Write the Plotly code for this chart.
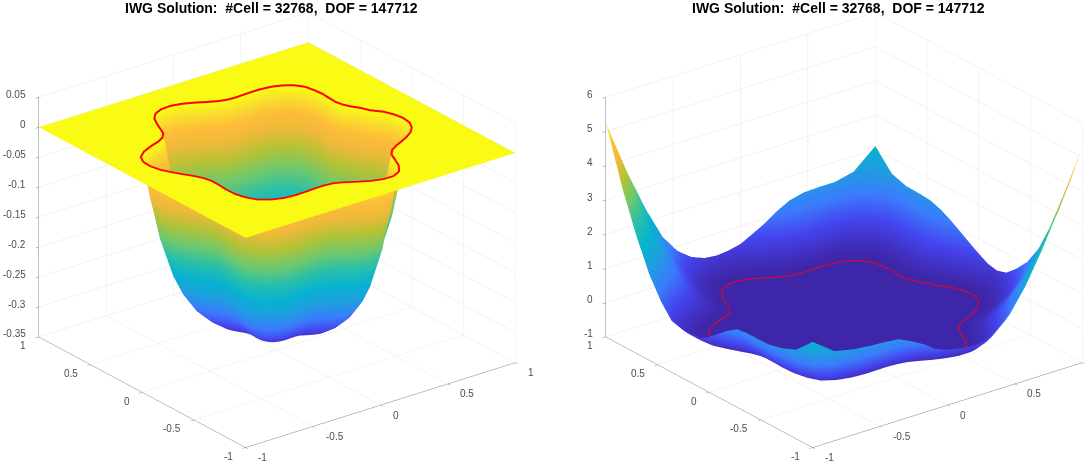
import numpy as np
import plotly.graph_objects as go

TITLE = "IWG Solution:\u00a0\u00a0#Cell = 32768,\u00a0\u00a0DOF = 147712"

# interface radius, read every 5 degrees from the red curve
angle_deg = list(range(0, 365, 5))
star_radius = [.690,.670,.644,.633,.641,.668,.706,.739,.774,.785,.778,.758,.729,.698,.670,.649,.642,.652,.679,.718,
               .759,.792,.808,.806,.781,.740,.703,.675,.674,.700,.750,.802,.841,.850,.838,.812,.776,.743,.715,.703,
               .710,.738,.779,.821,.852,.870,.864,.843,.809,.771,.738,.717,.711,.729,.766,.809,.846,.864,.852,.807,
               .751,.706,.694,.706,.731,.762,.792,.812,.817,.805,.778,.743,.690]

# left surface: depth against the fraction of the way from centre to interface
bowl_frac = [0,.1,.2,.3,.4,.5,.6,.7,.76,.82,.86,.9,.93,.96,.98,1]
bowl_z = [-.312,-.311,-.309,-.305,-.297,-.283,-.263,-.232,-.205,-.165,-.138,-.098,-.07,-.036,-.018,0]

# right surface: height on the square boundary at each angle
edge_z = [.57,.74,.92,1.1,1.26,1.37,1.40,1.41,1.55,2.1,1.55,1.42,1.42,1.40,1.30,1.10,.85,.66,.48,.40,
          .36,.40,.55,.85,1.4,2.35,3.6,5.27,3.6,2.4,1.5,.9,.50,.42,.42,.44,.62,.85,1.08,1.28,
          1.32,1.32,1.33,1.42,1.6,2.09,1.62,1.5,1.45,1.42,1.38,1.2,1.0,.75,.62,.55,.5,.52,.72,1.1,
          1.75,2.65,3.8,5.3,3.8,2.55,1.65,1.08,.72,.45,.36,.42,.57]
rise_frac = [0,.1,.2,.3,.4,.5,.6,.7,.8,.9,1]
rise_z = [0,.01,.04,.09,.16,.25,.36,.49,.64,.81,1]

x_ticks = [-1,-.5,0,.5,1]
y_ticks = [-1,-.5,0,.5,1]
z_ticks_left = [-.35,-.3,-.25,-.2,-.15,-.1,-.05,0,.05]
z_ticks_right = [-1,0,1,2,3,4,5,6]

parula = [[0,"#3e26a8"],[.1,"#4543ee"],[.2,"#3b7cfc"],[.3,"#1e9fdf"],[.4,"#07b3d0"],[.5,"#2bc0a8"],
          [.6,"#6fc86e"],[.7,"#b4c236"],[.8,"#f0b93a"],[.87,"#fdbc3a"],[.95,"#f9e12a"],[1,"#f9fb15"]]

th = np.radians(angle_deg)
r = np.array(star_radius)
cx, sx = np.cos(th), np.sin(th)
R_sq = 1/np.maximum(np.abs(cx), np.abs(sx))
bx = np.clip(R_sq*cx, -1, 1); by = np.clip(R_sq*sx, -1, 1)
sxv, syv = r*cx, r*sx

flat = dict(ambient=1, diffuse=0, specular=0, roughness=1, fresnel=0)
nocont = dict(x=dict(highlight=False), y=dict(highlight=False), z=dict(highlight=False))

def surf(x, y, z, cmin, cmax, scene):
    return go.Surface(x=x, y=y, z=z, surfacecolor=z, colorscale=parula, cmin=cmin, cmax=cmax,
                      showscale=False, lighting=flat, contours=nocont, hoverinfo="skip", scene=scene)

f = np.array(bowl_frac)[:, None]
bowl_x, bowl_y = f*sxv, f*syv
bowl_zz = np.array(bowl_z)[:, None]*np.ones_like(r)

t = np.array(rise_frac)[:, None]
out_x = sxv + t*(bx-sxv); out_y = syv + t*(by-syv)
out_z = np.array(rise_z)[:, None]*np.array(edge_z)
full_x = np.vstack([0*sxv, out_x]); full_y = np.vstack([0*syv, out_y])
full_z = np.vstack([0*sxv, out_z])

plate_x = np.vstack([sxv, bx]); plate_y = np.vstack([syv, by]); plate_z = np.zeros_like(plate_x)

fig = go.Figure()
fig.add_trace(surf(bowl_x, bowl_y, bowl_zz, -.315, 0, "scene"))
fig.add_trace(surf(plate_x, plate_y, plate_z, -.315, 0, "scene"))
fig.add_trace(go.Scatter3d(x=sxv, y=syv, z=0*sxv+.001, mode="lines", line=dict(color="#ff0000", width=4),
                           hoverinfo="skip", scene="scene"))
fig.add_trace(surf(full_x, full_y, full_z, 0, 5.3, "scene2"))
fig.add_trace(go.Scatter3d(x=sxv, y=syv, z=0*sxv+.02, mode="lines", line=dict(color="#ee0022", width=2),
                           hoverinfo="skip", scene="scene2"))

lab_font = dict(family="Liberation Sans", size=10, color="#4d4d4d")

def axis(vals, rng):
    return dict(range=rng, tickvals=vals, tickmode="array", showticklabels=False,
                showbackground=False, showgrid=True, gridcolor="#e6e6e6", gridwidth=1,
                zeroline=False, showline=True, linecolor="#808080", linewidth=1,
                ticks="outside", ticklen=4, tickcolor="#808080", title=dict(text=""),
                showspikes=False)

def labels(zticks, zlo):
    out = []
    for v in x_ticks:
        out.append(dict(x=v, y=-1, z=zlo, text=f"{v:g}", showarrow=False, xanchor="left", yanchor="middle",
                        xshift=11, yshift=-10, font=lab_font))
    for v in y_ticks:
        out.append(dict(x=-1, y=v, z=zlo, text=f"{v:g}", showarrow=False, xanchor="right", yanchor="middle",
                        xshift=-10, yshift=-9, font=lab_font))
    for v in zticks:
        out.append(dict(x=-1, y=1, z=v, text=f"{v:g}", showarrow=False, xanchor="right", yanchor="middle",
                        xshift=-10, yshift=3, font=lab_font))
    return out

k = 1.4
eye = dict(x=-.555*k, y=-.723*k, z=.41*k)
scale = 1.478
W = 1120
def scene(dom_px, zticks, zr):
    return dict(domain=dict(x=[dom_px[0]/W, dom_px[1]/W], y=[11/471, 1]), aspectmode="manual",
                aspectratio=dict(x=scale, y=scale, z=.773*scale),
                camera=dict(eye=eye, center=dict(x=0, y=0, z=0), up=dict(x=0, y=0, z=1),
                            projection=dict(type="orthographic")),
                xaxis=axis(x_ticks, [-1, 1]), yaxis=axis(y_ticks, [-1, 1]), zaxis=axis(zticks, zr),
                annotations=labels(zticks, zr[0]))

tfont = dict(family="Liberation Sans", size=14, color="#000000")
fig.update_layout(width=W, height=471, margin=dict(l=0, r=0, t=0, b=0), paper_bgcolor="white",
                  showlegend=False,
                  scene=scene([0.5, 552.5], z_ticks_left, [-.35, .05]),
                  scene2=scene([567.5, 1119.5], z_ticks_right, [-1, 6]),
                  annotations=[dict(text="<b>%s</b>" % TITLE, x=271/W, y=1.004, xref="paper", yref="paper",
                                    showarrow=False, font=tfont, xanchor="center", yanchor="top"),
                               dict(text="<b>%s</b>" % TITLE, x=838/W, y=1.004, xref="paper", yref="paper",
                                    showarrow=False, font=tfont, xanchor="center", yanchor="top")])
fig.write_html("out.html", post_script="document.body.style.margin='0';document.body.style.overflow='hidden';document.documentElement.style.overflow='hidden';",
               config=dict(displayModeBar=False))
